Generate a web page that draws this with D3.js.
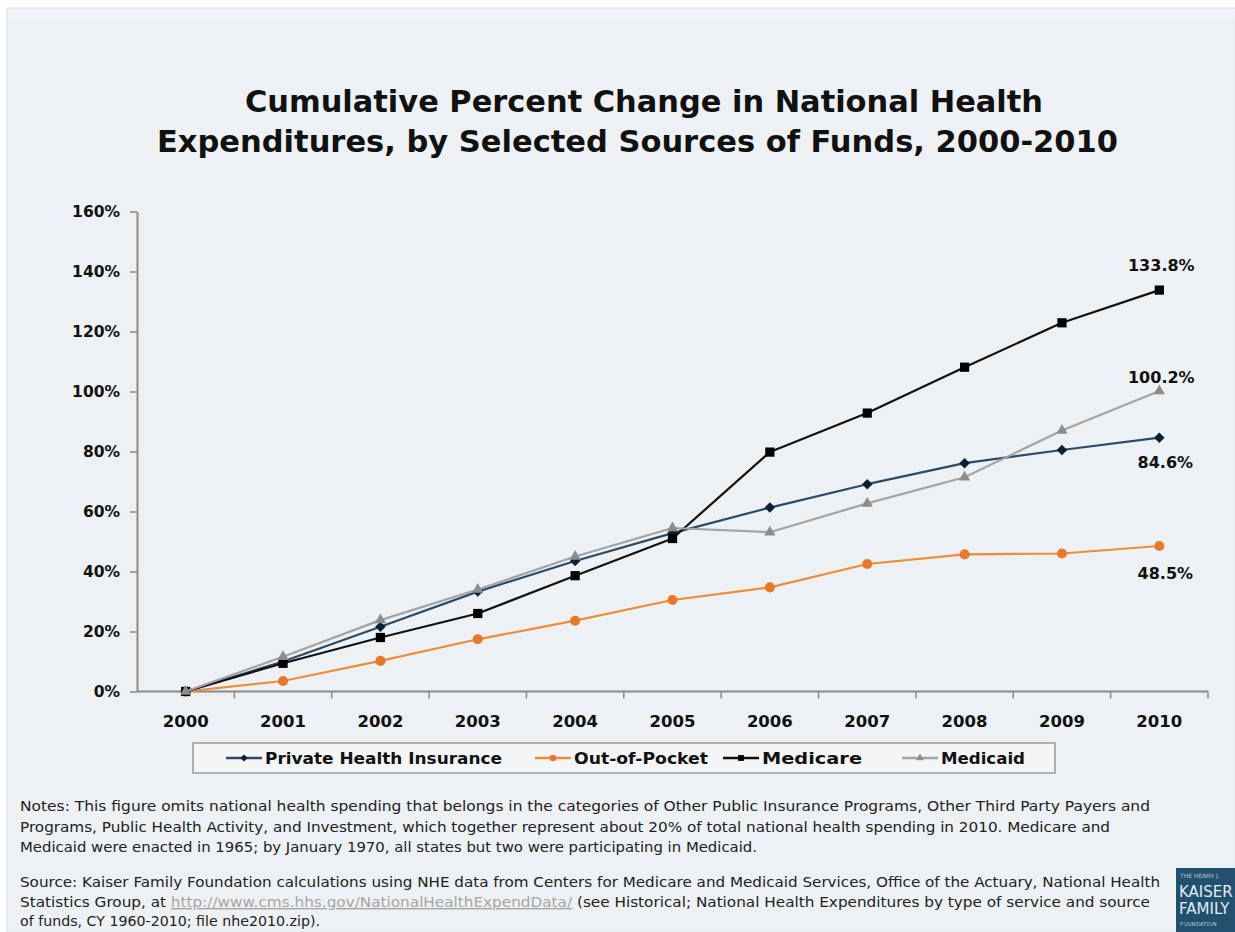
<!DOCTYPE html>
<html>
<head>
<meta charset="utf-8">
<script src="https://cdn.jsdelivr.net/npm/d3@7/dist/d3.min.js"></script>
<style>
  html, body { margin: 0; padding: 0; background: #ffffff; }
  svg { display: block; }
  text { font-family: "DejaVu Sans", Verdana, sans-serif; }
</style>
</head>
<body>
<svg id="chart" width="1235" height="932"></svg>
<script>
// ---------------- data ----------------
const years = ["2000","2001","2002","2003","2004","2005","2006","2007","2008","2009","2010"];
const seriesNames = ["Private Health Insurance","Out-of-Pocket","Medicare","Medicaid"];
const privateHealth = [0, 10.0, 21.6, 33.3, 43.5, 52.8, 61.3, 69.1, 76.1, 80.5, 84.6];
const outOfPocket   = [0, 3.5, 10.2, 17.4, 23.6, 30.5, 34.7, 42.5, 45.7, 46.0, 48.5];
const medicare      = [0, 9.4, 18.0, 26.0, 38.6, 51.0, 79.8, 92.8, 108.1, 122.9, 133.8];
const medicaid      = [0, 11.6, 23.8, 34.0, 45.0, 54.5, 53.1, 62.7, 71.4, 87.0, 100.2];
const endLabels     = ["84.6%", "48.5%", "133.8%", "100.2%"];
const yTickValues   = [0, 20, 40, 60, 80, 100, 120, 140, 160];
const titleLines = [
  "Cumulative Percent Change in National Health",
  "Expenditures, by Selected Sources of Funds, 2000-2010"
];
const noteLines = [
  "Notes: This figure omits national health spending that belongs in the categories of Other Public Insurance Programs, Other Third Party Payers and",
  "Programs, Public Health Activity, and Investment, which together represent about 20% of total national health spending in 2010. Medicare and",
  "Medicaid were enacted in 1965; by January 1970, all states but two were participating in Medicaid."
];
const sourceLine1 = "Source: Kaiser Family Foundation calculations using NHE data from Centers for Medicare and Medicaid Services, Office of the Actuary, National Health";
const sourceLine2a = "Statistics Group, at ";
const sourceUrl = "http://www.cms.hhs.gov/NationalHealthExpendData/";
const sourceLine2b = " (see Historical; National Health Expenditures by type of service and source";
const sourceLine3 = "of funds, CY 1960-2010; file nhe2010.zip).";

// ---------------- styles ----------------
const allValues = [privateHealth, outOfPocket, medicare, medicaid];
const styles = [
  {line: "#2c4a66", marker: "#0f1f33", sym: d3.symbolSquare, rot: 45, size: 55, lsize: 26},
  {line: "#ee8c38", marker: "#e8792a", sym: d3.symbolCircle, rot: 0, size: 80, lsize: 34},
  {line: "#111111", marker: "#000000", sym: d3.symbolSquare, rot: 0, size: 85, lsize: 34},
  {line: "#a3a3a3", marker: "#8c8c8c", sym: d3.symbolTriangle, rot: 0, size: 55, lsize: 26}
];
const labelOffsets = [{dx: 6, dy: 30}, {dx: 6, dy: 33}, {dx: 2, dy: -19}, {dx: 2, dy: -8}];

const svg = d3.select("#chart");

// background panel
svg.append("rect").attr("x", 7).attr("y", 8).attr("width", 1235 - 7).attr("height", 932 - 8)
  .attr("fill", "#edf1f4").attr("stroke", "#dde2e7").attr("stroke-width", 1);
svg.append("rect").attr("x", 8).attr("y", 9).attr("width", 1227).attr("height", 10)
  .attr("fill", "#f1f4f7");

// title
const titleAttrs = [{cx: 644, y: 112, len: 798}, {cx: 637.5, y: 152, len: 961}];
svg.selectAll("text.title").data(titleLines).join("text")
  .attr("class", "title")
  .attr("x", (d, i) => titleAttrs[i].cx)
  .attr("y", (d, i) => titleAttrs[i].y)
  .attr("text-anchor", "middle")
  .attr("font-size", 30).attr("font-weight", "bold").attr("fill", "#111")
  .attr("textLength", (d, i) => titleAttrs[i].len)
  .attr("lengthAdjust", "spacingAndGlyphs")
  .text(d => d);

// scales
const x = d3.scaleBand().domain(years).range([137, 1208]).padding(0);
const cx = d => x(d) + x.bandwidth() / 2;
const y = d3.scaleLinear().domain([0, 160]).range([691.5, 211.5]);

// y axis
const yAxis = d3.axisLeft(y).tickValues(yTickValues).tickFormat(d => d + "%")
  .tickSize(7).tickPadding(10).tickSizeOuter(0);
const gy = svg.append("g").attr("transform", "translate(137,0)").call(yAxis);
gy.select(".domain").attr("stroke", "#8a8a8a").attr("stroke-width", 2);
gy.selectAll(".tick line").attr("stroke", "#8a8a8a").attr("stroke-width", 1.5);
gy.selectAll(".tick text").attr("font-size", 15.5).attr("font-weight", "bold")
  .attr("fill", "#111").attr("font-family", "DejaVu Sans");

// x axis: boundary ticks + labels
const gx = svg.append("g");
gx.append("line").attr("x1", x.range()[0]).attr("x2", x.range()[1])
  .attr("y1", y(0)).attr("y2", y(0)).attr("stroke", "#8a8a8a").attr("stroke-width", 2);
const boundaries = years.map(d => x(d)).concat([x.range()[1]]).slice(1);
gx.selectAll("line.bt").data(boundaries).join("line").attr("class", "bt")
  .attr("x1", d => d).attr("x2", d => d).attr("y1", y(0)).attr("y2", y(0) + 7)
  .attr("stroke", "#8a8a8a").attr("stroke-width", 1.5);
gx.selectAll("text").data(years).join("text")
  .attr("x", d => cx(d)).attr("y", 727)
  .attr("text-anchor", "middle").attr("font-size", 16.5).attr("font-weight", "bold")
  .attr("fill", "#111").text(d => d);

// lines and markers
const lineGen = d3.line().x((d, i) => cx(years[i])).y(d => y(d));
allValues.forEach((vals, s) => {
  const st = styles[s];
  svg.append("path").datum(vals).attr("d", lineGen)
    .attr("fill", "none").attr("stroke", st.line).attr("stroke-width", 2.2)
    .attr("stroke-linejoin", "round");
  svg.append("g").selectAll("path").data(vals).join("path")
    .attr("transform", (d, i) => `translate(${cx(years[i])},${y(d)}) rotate(${st.rot})`)
    .attr("d", d3.symbol().type(st.sym).size(st.size))
    .attr("fill", st.marker);
});

// end labels
allValues.forEach((vals, s) => {
  const last = vals.length - 1;
  svg.append("text")
    .attr("x", cx(years[last]) + labelOffsets[s].dx)
    .attr("y", y(vals[last]) + labelOffsets[s].dy)
    .attr("text-anchor", "middle").attr("font-size", 16).attr("font-weight", "bold")
    .attr("fill", "#111").text(endLabels[s]);
});

// legend
svg.append("rect").attr("x", 193).attr("y", 743).attr("width", 862).attr("height", 30)
  .attr("fill", "#f3f5f7").attr("stroke", "#9a9a9a").attr("stroke-width", 1.5);
const legendX = [226, 535, 723, 902];
const legendLen = [237, 134, 100, 84];
seriesNames.forEach((name, s) => {
  const st = styles[s];
  const g = svg.append("g").attr("transform", `translate(${legendX[s]},758)`);
  g.append("line").attr("x1", 0).attr("x2", 36).attr("y1", 0).attr("y2", 0)
    .attr("stroke", st.line).attr("stroke-width", 2.5);
  g.append("path").attr("transform", `translate(18,0) rotate(${st.rot})`)
    .attr("d", d3.symbol().type(st.sym).size(st.lsize)).attr("fill", st.marker);
  g.append("text").attr("x", 39).attr("y", 6).attr("font-size", 15.5).attr("font-weight", "bold")
    .attr("fill", "#111").attr("textLength", legendLen[s]).attr("lengthAdjust", "spacingAndGlyphs")
    .text(name);
});

// notes
const noteY = [811, 832, 852];
const noteLen = [1130, 1090, 737];
svg.selectAll("text.note").data(noteLines).join("text").attr("class", "note")
  .attr("x", 20).attr("y", (d, i) => noteY[i])
  .attr("font-size", 14).attr("fill", "#222")
  .attr("textLength", (d, i) => noteLen[i]).attr("lengthAdjust", "spacingAndGlyphs")
  .text(d => d);

// source
svg.append("text").attr("x", 20).attr("y", 887).attr("font-size", 14).attr("fill", "#222")
  .attr("textLength", 1140).attr("lengthAdjust", "spacingAndGlyphs").text(sourceLine1);
const s2 = svg.append("text").attr("x", 20).attr("y", 907).attr("font-size", 14).attr("fill", "#222")
  .attr("textLength", 1130).attr("lengthAdjust", "spacingAndGlyphs");
s2.append("tspan").text(sourceLine2a);
s2.append("tspan").attr("fill", "#a5a5a5").attr("text-decoration", "underline").text(sourceUrl);
s2.append("tspan").text(sourceLine2b);
svg.append("text").attr("x", 20).attr("y", 926).attr("font-size", 13.5).attr("fill", "#222")
  .attr("textLength", 300).attr("lengthAdjust", "spacingAndGlyphs").text(sourceLine3);

// logo
const logo = svg.append("g");
logo.append("rect").attr("x", 1176).attr("y", 868).attr("width", 59).attr("height", 64).attr("fill", "#22506f");
logo.append("text").attr("x", 1180).attr("y", 878).attr("font-size", 6).attr("fill", "#b9cad6")
  .attr("font-family", "DejaVu Serif").text("THE HENRY J.");
logo.append("text").attr("x", 1179).attr("y", 897).attr("font-size", 15).attr("fill", "#e3ebf1")
  .attr("font-family", "Liberation Serif").text("KAISER");
logo.append("text").attr("x", 1179).attr("y", 914).attr("font-size", 15).attr("fill", "#e3ebf1")
  .attr("font-family", "Liberation Serif").text("FAMILY");
logo.append("text").attr("x", 1180).attr("y", 926).attr("font-size", 5.5).attr("fill", "#b9cad6")
  .attr("font-family", "DejaVu Serif").text("FOUNDATION");
</script>
</body>
</html>
